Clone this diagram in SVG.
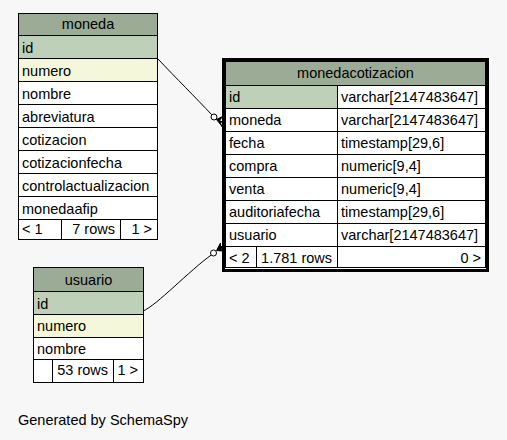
<svg xmlns="http://www.w3.org/2000/svg" width="507" height="440" viewBox="0 0 507 440">
<style>
text{font-family:"Liberation Sans",Arial,sans-serif;font-size:14.5px;fill:#000}
.hdr{fill:#9bab96;stroke:#000;stroke-width:1}
.pk{fill:#bed1b8;stroke:#000;stroke-width:1}
.ix{fill:#f4f7da;stroke:#000;stroke-width:1}
.rw{fill:#fff;stroke:#000;stroke-width:1}
.c{text-anchor:middle}
.r{text-anchor:end}
.edge{fill:none;stroke:#000;stroke-width:1}
.dot{fill:#fff;stroke:#000;stroke-width:1}
.crow{fill:#000;stroke:#000;stroke-width:1;stroke-linejoin:miter}
</style>
<rect x="0" y="0" width="507" height="440" fill="#f7f7f7"/>

<g id="moneda">
<rect class="hdr" x="18.5" y="13.5" width="139" height="22"/>
<rect class="pk" x="18.5" y="35.5" width="139" height="23"/>
<rect class="ix" x="18.5" y="58.5" width="139" height="23"/>
<rect class="rw" x="18.5" y="81.5" width="139" height="23"/>
<rect class="rw" x="18.5" y="104.5" width="139" height="23"/>
<rect class="rw" x="18.5" y="127.5" width="139" height="23"/>
<rect class="rw" x="18.5" y="150.5" width="139" height="23"/>
<rect class="rw" x="18.5" y="173.5" width="139" height="23"/>
<rect class="rw" x="18.5" y="196.5" width="139" height="23"/>
<rect class="rw" x="18.5" y="219.5" width="43" height="20"/>
<rect class="rw" x="61.5" y="219.5" width="59" height="20"/>
<rect class="rw" x="120.5" y="219.5" width="37" height="20"/>
<text class="c" x="88" y="29">moneda</text>
<text x="22" y="53">id</text>
<text x="22" y="76">numero</text>
<text x="22" y="99">nombre</text>
<text x="22" y="122">abreviatura</text>
<text x="22" y="145">cotizacion</text>
<text x="22" y="168">cotizacionfecha</text>
<text x="22" y="191">controlactualizacion</text>
<text x="22" y="214">monedaafip</text>
<text x="22" y="234">&lt; 1</text>
<text class="r" x="115" y="234">7 rows</text>
<text class="r" x="152" y="234">1 &gt;</text>
</g>

<g id="monedacotizacion">
<rect x="223.5" y="59.5" width="264" height="211" fill="#fff" stroke="#000" stroke-width="3"/>
<rect class="hdr" x="225.5" y="61.5" width="260" height="24"/>
<rect class="pk" x="225.5" y="85.5" width="112" height="23"/>
<rect class="rw" x="337.5" y="85.5" width="148" height="23"/>
<rect class="rw" x="225.5" y="108.5" width="112" height="23"/>
<rect class="rw" x="337.5" y="108.5" width="148" height="23"/>
<rect class="rw" x="225.5" y="131.5" width="112" height="23"/>
<rect class="rw" x="337.5" y="131.5" width="148" height="23"/>
<rect class="rw" x="225.5" y="154.5" width="112" height="23"/>
<rect class="rw" x="337.5" y="154.5" width="148" height="23"/>
<rect class="rw" x="225.5" y="177.5" width="112" height="23"/>
<rect class="rw" x="337.5" y="177.5" width="148" height="23"/>
<rect class="rw" x="225.5" y="200.5" width="112" height="23"/>
<rect class="rw" x="337.5" y="200.5" width="148" height="23"/>
<rect class="rw" x="225.5" y="223.5" width="112" height="23"/>
<rect class="rw" x="337.5" y="223.5" width="148" height="23"/>
<rect class="rw" x="225.5" y="246.5" width="31" height="21"/>
<rect class="rw" x="256.5" y="246.5" width="81" height="21"/>
<rect class="rw" x="337.5" y="246.5" width="148" height="21"/>
<text class="c" x="355.5" y="78">monedacotizacion</text>
<text x="229" y="102">id</text>
<text x="341" y="102">varchar[2147483647]</text>
<text x="229" y="125">moneda</text>
<text x="341" y="125">varchar[2147483647]</text>
<text x="229" y="148">fecha</text>
<text x="341" y="148">timestamp[29,6]</text>
<text x="229" y="171">compra</text>
<text x="341" y="171">numeric[9,4]</text>
<text x="229" y="194">venta</text>
<text x="341" y="194">numeric[9,4]</text>
<text x="229" y="217">auditoriafecha</text>
<text x="341" y="217">timestamp[29,6]</text>
<text x="229" y="240">usuario</text>
<text x="341" y="240">varchar[2147483647]</text>
<text x="229" y="263">&lt; 2</text>
<text class="r" x="332" y="263">1.781 rows</text>
<text class="r" x="481" y="263">0 &gt;</text>
</g>

<g id="usuario">
<rect class="hdr" x="33.5" y="267.5" width="110" height="24"/>
<rect class="pk" x="33.5" y="291.5" width="110" height="23"/>
<rect class="ix" x="33.5" y="314.5" width="110" height="23"/>
<rect class="rw" x="33.5" y="337.5" width="110" height="22"/>
<rect class="rw" x="33.5" y="359.5" width="19" height="23"/>
<rect class="rw" x="52.5" y="359.5" width="61" height="23"/>
<rect class="rw" x="113.5" y="359.5" width="30" height="23"/>
<text class="c" x="88.5" y="285">usuario</text>
<text x="37" y="309">id</text>
<text x="37" y="331">numero</text>
<text x="37" y="354">nombre</text>
<text class="r" x="108" y="375">53 rows</text>
<text class="r" x="138" y="375">1 &gt;</text>
</g>

<g id="connectors">
<path class="edge" d="M158,59 C176,78 196,98 211.8,114.8"/>
<circle class="dot" cx="214" cy="117" r="3"/>
<path class="crow" d="M216.5,119.5 L222.5,116.5 L219.5,120.5 L222.5,122 L220,122.5 L222.5,127 Z"/>
<path class="edge" d="M143,311 C156,306 190,270 211.3,255"/>
<circle class="dot" cx="213.5" cy="253" r="3"/>
<path class="crow" d="M216.5,250.5 L220.5,243 L220.5,247 L222.5,246 L221,249 L222.5,251 Z"/>
</g>

<text x="18" y="425">Generated by SchemaSpy</text>
</svg>
